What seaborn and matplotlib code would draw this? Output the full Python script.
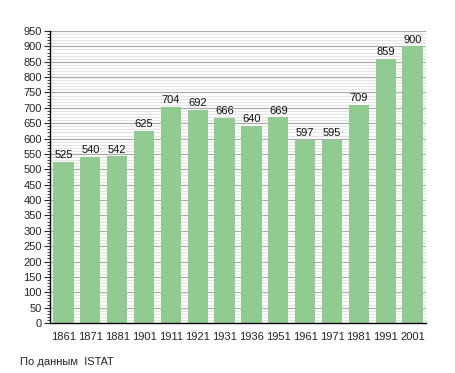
import matplotlib
matplotlib.use("Agg")
import matplotlib.pyplot as plt
from matplotlib.ticker import MultipleLocator
import pandas as pd
import seaborn as sns

# population by census year (ISTAT)
years = ["1861", "1871", "1881", "1901", "1911", "1921", "1931",
         "1936", "1951", "1961", "1971", "1981", "1991", "2001"]
population = [525, 540, 542, 625, 704, 692, 666, 640, 669, 597, 595, 709, 859, 900]

df = pd.DataFrame({"year": years, "population": population})

sns.set_style("white")
plt.rcParams["font.family"] = ["Liberation Sans", "DejaVu Sans"]

fig = plt.figure(figsize=(4.55, 3.73), dpi=100)
ax = fig.add_axes([50 / 455, 1 - 323 / 373, 376 / 455, 292 / 373])

ax.set_axisbelow(True)
ax.yaxis.set_major_locator(MultipleLocator(50))
ax.yaxis.set_minor_locator(MultipleLocator(10))
ax.grid(which="minor", axis="y", color="#e4e4e4", linewidth=0.8)
ax.grid(which="major", axis="y", color="#ababab", linewidth=0.9)

sns.barplot(data=df, x="year", y="population", color="#92cb92",
            saturation=1, width=0.76, linewidth=0, ax=ax)

for i, v in enumerate(population):
    ax.text(i, v + 6, str(v), ha="center", va="bottom", fontsize=8, color="#111111")

ax.set_ylim(0, 950)
ax.set_xlim(-0.5, len(years) - 0.5)
ax.set_xlabel("")
ax.set_ylabel("")
ax.spines[["top", "right"]].set_visible(False)
ax.spines[["left", "bottom"]].set_color("black")
ax.spines[["left", "bottom"]].set_linewidth(1.0)
ax.tick_params(axis="y", which="major", left=True, length=4, width=0.8, labelsize=8, pad=2)
ax.tick_params(axis="y", which="minor", left=True, length=2, width=0.6)
ax.tick_params(axis="x", bottom=False, labelsize=8, pad=3)

fig.text(20 / 455, 1 - 362 / 373, "По данным  ISTAT", fontsize=8, va="center", ha="left")

fig.savefig("out.png", dpi=100)
